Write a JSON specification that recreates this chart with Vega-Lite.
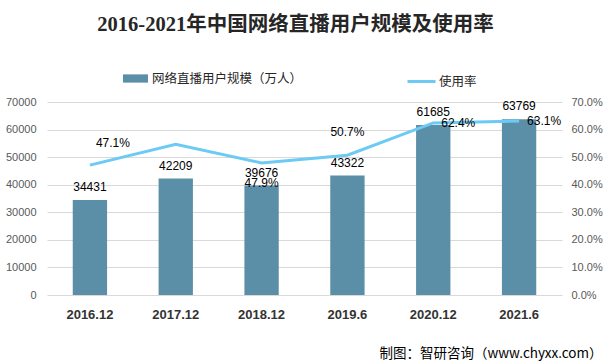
{
  "$schema": "https://vega.github.io/schema/vega-lite/v6.json",
  "width": 515,
  "height": 193,
  "autosize": {"type": "none"},
  "padding": {"left": 47, "top": 102, "right": 43, "bottom": 69},
  "background": "white",
  "title": {
    "text": "2016-2021年中国网络直播用户规模及使用率",
    "font": "Liberation Serif, Noto Sans CJK SC",
    "fontSize": 20.5,
    "fontWeight": "bold",
    "color": "#262626",
    "anchor": "middle",
    "dx": -9,
    "offset": 31
  },
  "config": {
    "view": {"stroke": null},
    "font": "Liberation Sans, Noto Sans CJK SC"
  },
  "data": {
    "values": [
      {"period": "2016.12", "users": 34431, "rate": 47.1},
      {"period": "2017.12", "users": 42209, "rate": 54.7},
      {"period": "2018.12", "users": 39676, "rate": 47.9},
      {"period": "2019.6", "users": 43322, "rate": 50.7},
      {"period": "2020.12", "users": 61685, "rate": 62.4},
      {"period": "2021.6", "users": 63769, "rate": 63.1}
    ]
  },
  "transform": [
    {"calculate": "format(datum.rate, '.1f') + '%'", "as": "rateLabel"}
  ],
  "encoding": {
    "x": {
      "field": "period",
      "type": "nominal",
      "sort": null,
      "scale": {"paddingInner": 0.6, "paddingOuter": 0.3},
      "axis": {
        "title": "制图：智研咨询（www.chyxx.com）",
        "titleFont": "Noto Sans CJK SC",
        "titleFontSize": 13.5,
        "titleFontWeight": "normal",
        "titleColor": "#000000",
        "titleAlign": "right",
        "titleAnchor": "start",
        "titleX": 555,
        "titleY": 58,
        "titleBaseline": "middle",
        "labelAngle": 0,
        "labelFontSize": 13,
        "labelFontWeight": "bold",
        "labelColor": "#333333",
        "labelPadding": 13,
        "domain": false,
        "ticks": false
      }
    }
  },
  "layer": [
    {
      "encoding": {
        "y": {
          "field": "users",
          "type": "quantitative",
          "scale": {"domain": [0, 70000]},
          "axis": {
            "title": null,
            "values": [0, 10000, 20000, 30000, 40000, 50000, 60000, 70000],
            "format": "d",
            "labelOverlap": false,
            "grid": true,
            "gridColor": "#d9d9d9",
            "domain": false,
            "ticks": false,
            "labelColor": "#595959",
            "labelFontSize": 11,
            "labelPadding": 11
          }
        }
      },
      "layer": [
        {
          "mark": {"type": "bar", "color": "#5b8fa8"},
          "encoding": {
            "fill": {
              "datum": "网络直播用户规模（万人）",
              "scale": {"range": ["#5b8fa8"]},
              "legend": {
                "orient": "none",
                "legendX": 76,
                "legendY": -36,
                "title": null,
                "padding": 0,
                "symbolType": "M-1,-0.33L1,-0.33L1,0.33L-1,0.33Z",
                "symbolSize": 625,
                "symbolStrokeWidth": 0,
                "labelFont": "Noto Sans CJK SC",
                "labelFontSize": 12.5,
                "labelColor": "#262626",
                "labelOffset": 4
              }
            }
          }
        },
        {
          "mark": {"type": "text", "baseline": "bottom", "dy": -6, "fontSize": 12, "color": "#000000"},
          "encoding": {
            "text": {"field": "users", "type": "quantitative", "format": "d"}
          }
        }
      ]
    },
    {
      "encoding": {
        "y": {
          "field": "rate",
          "type": "quantitative",
          "scale": {"domain": [0, 70]},
          "axis": {
            "title": null,
            "orient": "right",
            "values": [0, 10, 20, 30, 40, 50, 60, 70],
            "labelExpr": "format(datum.value, '.1f') + '%'",
            "labelOverlap": false,
            "grid": false,
            "domain": false,
            "ticks": false,
            "labelColor": "#595959",
            "labelFontSize": 11,
            "labelPadding": 9
          }
        }
      },
      "layer": [
        {
          "mark": {"type": "line", "strokeWidth": 3},
          "encoding": {
            "stroke": {
              "datum": "使用率",
              "scale": {"range": ["#6ccaf5"]},
              "legend": {
                "orient": "none",
                "legendX": 359,
                "legendY": -36,
                "title": null,
                "padding": 0,
                "symbolType": "stroke",
                "symbolSize": 784,
                "symbolStrokeWidth": 3,
                "labelFont": "Noto Sans CJK SC",
                "labelFontSize": 12.5,
                "labelColor": "#262626",
                "labelOffset": 2
              }
            }
          }
        },
        {
          "transform": [{"filter": "datum.period == '2016.12'"}],
          "mark": {"type": "text", "baseline": "middle", "dy": -22, "dx": 23, "fontSize": 12, "color": "#000000"},
          "encoding": {"text": {"field": "rateLabel"}}
        },
        {
          "transform": [{"filter": "datum.period == '2019.6'"}],
          "mark": {"type": "text", "baseline": "middle", "dy": -23, "fontSize": 12, "color": "#000000"},
          "encoding": {"text": {"field": "rateLabel"}}
        },
        {
          "transform": [{"filter": "datum.period == '2018.12'"}],
          "mark": {"type": "text", "baseline": "middle", "dy": 20, "fontSize": 12, "color": "#000000"},
          "encoding": {"text": {"field": "rateLabel"}}
        },
        {
          "transform": [{"filter": "datum.period == '2020.12' || datum.period == '2021.6'"}],
          "mark": {"type": "text", "baseline": "middle", "dx": 25, "fontSize": 12, "color": "#000000"},
          "encoding": {"text": {"field": "rateLabel"}}
        }
      ]
    }
  ],
  "resolve": {"scale": {"y": "independent"}}
}
